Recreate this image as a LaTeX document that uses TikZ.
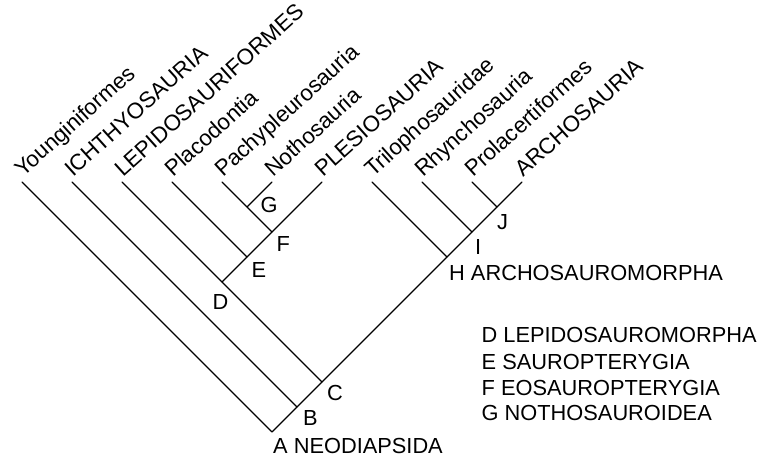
\documentclass[tikz,border=0pt]{standalone}
\usepackage{fontspec}
\setmainfont{Liberation Sans}
\usetikzlibrary{calc}

\begin{document}
\begin{tikzpicture}[x=1pt,y=1pt,
  branch/.style={line width=1.2pt, line cap=round, line join=round},
  taxon/.style={anchor=base west, rotate=42, inner sep=0pt, font=\fontsize{22.3}{26}\selectfont},
  clade/.style={anchor=base west, inner sep=0pt, font=\fontsize{21.8}{26}\selectfont}]
\useasboundingbox (0,0) rectangle (762,458);

\coordinate (young) at (22,276);
\coordinate (ichth) at (72,276);
\coordinate (lepif) at (122,276);
\coordinate (placo) at (172,276);
\coordinate (pachy) at (222,276);
\coordinate (notho) at (272,276);
\coordinate (plesi) at (322,276);
\coordinate (trilo) at (372,276);
\coordinate (rhync) at (422,276);
\coordinate (prola) at (472,276);
\coordinate (archs) at (522,276);

\coordinate (A) at (272,26);
\coordinate (B) at (297,51);
\coordinate (C) at (322,76);
\coordinate (D) at (222,176);
\coordinate (E) at (247,201);
\coordinate (F) at (272,226);
\coordinate (G) at (247,251);
\coordinate (H) at (447,201);
\coordinate (I) at (472,226);
\coordinate (J) at (497,251);

\draw[branch] (young) -- (A) -- (B) -- (C) -- (H) -- (I) -- (J) -- (archs);
\draw[branch] (ichth) -- (B);
\draw[branch] (lepif) -- (D) -- (C);
\draw[branch] (D) -- (E) -- (F) -- (plesi);
\draw[branch] (placo) -- (E);
\draw[branch] (F) -- (G);
\draw[branch] (pachy) -- (G) -- (notho);
\draw[branch] (trilo) -- (H);
\draw[branch] (rhync) -- (I);
\draw[branch] (prola) -- (J);

\node[taxon] (tyoung) at ($(young)+(1,4)$) {Younginiformes};
\node[taxon] (tichth) at ($(ichth)+(1,4)$) {ICHTHYOSAURIA};
\node[taxon] (tlepif) at ($(lepif)+(1,4)$) {LEPIDOSAURIFORMES};
\node[taxon] (tplaco) at ($(placo)+(1,4)$) {Placodontia};
\node[taxon] (tpachy) at ($(pachy)+(1,4)$) {Pachypleurosauria};
\node[taxon] (tnotho) at ($(notho)+(1,4)$) {Nothosauria};
\node[taxon] (tplesi) at ($(plesi)+(1,4)$) {PLESIOSAURIA};
\node[taxon] (ttrilo) at ($(trilo)+(1,4)$) {Trilophosauridae};
\node[taxon] (trhync) at ($(rhync)+(1,4)$) {Rhynchosauria};
\node[taxon] (tprola) at ($(prola)+(1,4)$) {Prolacertiformes};
\node[taxon] (tarchs) at ($(archs)+(1,4)$) {ARCHOSAURIA};

\node[clade] (lA) at (273,5) {A NEODIAPSIDA};
\node[clade] (lB) at (303,33) {B};
\node[clade] (lC) at (327,58) {C};
\node[clade] (lD) at (212.5,149) {D};
\node[clade] (lE) at (251.5,181) {E};
\node[clade] (lF) at (276.5,206) {F};
\node[clade] (lG) at (260.5,245) {G};
\node[clade] (lH) at (449,178) {H ARCHOSAUROMORPHA};
\node[clade] (lI) at (475,203) {I};
\node[clade] (lJ) at (497,228) {J};

\node[clade] (kD) at (481.5,115.3) {D LEPIDOSAUROMORPHA};
\node[clade] (kE) at (481.5,88.7) {E SAUROPTERYGIA};
\node[clade] (kF) at (481.5,63) {F EOSAUROPTERYGIA};
\node[clade] (kG) at (481.5,38) {G NOTHOSAUROIDEA};
\end{tikzpicture}
\end{document}
